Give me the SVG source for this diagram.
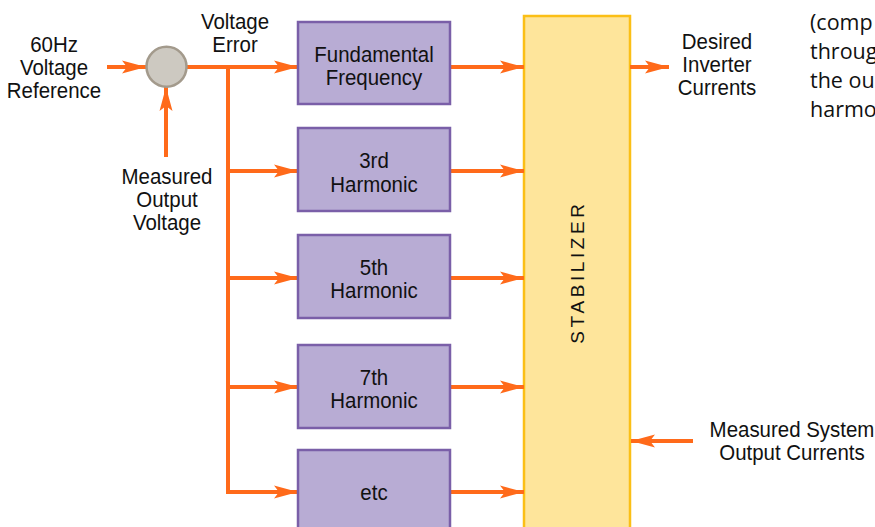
<svg xmlns="http://www.w3.org/2000/svg" width="875" height="527" viewBox="0 0 875 527">
<defs>
<style>
.lbl{font-family:"Liberation Sans",Arial,sans-serif;font-size:22px;fill:#111;text-anchor:middle}
.box{fill:#b8acd4;stroke:#7a5fa8;stroke-width:2.5}
.wire{fill:none;stroke:#ff6a1a;stroke-width:4}
.arr{fill:none;stroke:#ff6a1a;stroke-width:4;marker-end:url(#ah)}
.side{font-family:"Open Sans","Noto Sans",sans-serif;font-size:21.5px;fill:#111}
</style>
<marker id="ah" markerUnits="userSpaceOnUse" markerWidth="26" markerHeight="14" refX="24" refY="7" orient="auto">
<path d="M0,0.5 L24,7 L0,13.5 L5,7 Z" fill="#ff6a1a"/>
</marker>
</defs>
<rect width="875" height="527" fill="#fff"/>

<g id="stabilizer">
<rect x="524" y="16" width="106" height="520" fill="#fee59b" stroke="#fbbf16" stroke-width="2.5"/>
<text x="584" y="272" transform="rotate(-90 584 272)" style="font-family:'Liberation Sans',Arial,sans-serif;font-size:19px;fill:#111;letter-spacing:3.6px;text-anchor:middle">STABILIZER</text>
</g>

<g id="connectors">
<line class="arr" x1="107" y1="67" x2="146" y2="67"/>
<line class="arr" x1="166" y1="157" x2="166" y2="87"/>
<polyline class="wire" points="187,67 228,67 228,492"/>
<line class="arr" x1="228" y1="67" x2="298" y2="67"/>
<line class="arr" x1="228" y1="171" x2="298" y2="171"/>
<line class="arr" x1="228" y1="278" x2="298" y2="278"/>
<line class="arr" x1="228" y1="387" x2="298" y2="387"/>
<line class="arr" x1="226" y1="492" x2="298" y2="492"/>
<line class="arr" x1="451" y1="67" x2="524" y2="67"/>
<line class="arr" x1="451" y1="171" x2="524" y2="171"/>
<line class="arr" x1="451" y1="278" x2="524" y2="278"/>
<line class="arr" x1="451" y1="387" x2="524" y2="387"/>
<line class="arr" x1="451" y1="492" x2="524" y2="492"/>
<line class="arr" x1="630" y1="67" x2="669" y2="67"/>
<line class="arr" x1="693" y1="441" x2="631" y2="441"/>
</g>

<g id="summing-junction">
<circle cx="166.5" cy="66.7" r="20" fill="#cdc9c1" stroke="#a39a8c" stroke-width="2.5"/>
</g>

<g id="fundamental">
<rect class="box" x="298" y="22" width="152" height="82"/>
<text class="lbl" transform="translate(374,62) scale(0.93,1)">Fundamental</text>
<text class="lbl" transform="translate(374,85) scale(0.93,1)">Frequency</text>
</g>
<g id="h3">
<rect class="box" x="298" y="128" width="152" height="83"/>
<text class="lbl" transform="translate(374,168) scale(0.93,1)">3rd</text>
<text class="lbl" transform="translate(374,192) scale(0.93,1)">Harmonic</text>
</g>
<g id="h5">
<rect class="box" x="298" y="235" width="152" height="83"/>
<text class="lbl" transform="translate(374,275) scale(0.93,1)">5th</text>
<text class="lbl" transform="translate(374,298) scale(0.93,1)">Harmonic</text>
</g>
<g id="h7">
<rect class="box" x="298" y="345" width="152" height="83"/>
<text class="lbl" transform="translate(374,385) scale(0.93,1)">7th</text>
<text class="lbl" transform="translate(374,408) scale(0.93,1)">Harmonic</text>
</g>
<g id="etc">
<rect class="box" x="298" y="450" width="152" height="90"/>
<text class="lbl" transform="translate(374,500) scale(0.93,1)">etc</text>
</g>

<g id="labels">
<text class="lbl" transform="translate(54,52) scale(0.93,1)">60Hz</text>
<text class="lbl" transform="translate(54,75) scale(0.93,1)">Voltage</text>
<text class="lbl" transform="translate(54,98) scale(0.93,1)">Reference</text>
<text class="lbl" transform="translate(235,29) scale(0.93,1)">Voltage</text>
<text class="lbl" transform="translate(235,52) scale(0.93,1)">Error</text>
<text class="lbl" transform="translate(167,184) scale(0.93,1)">Measured</text>
<text class="lbl" transform="translate(167,207) scale(0.93,1)">Output</text>
<text class="lbl" transform="translate(167,230) scale(0.93,1)">Voltage</text>
<text class="lbl" transform="translate(717,49) scale(0.93,1)">Desired</text>
<text class="lbl" transform="translate(717,72) scale(0.93,1)">Inverter</text>
<text class="lbl" transform="translate(717,95) scale(0.93,1)">Currents</text>
<text class="lbl" transform="translate(792,437) scale(0.93,1)">Measured System</text>
<text class="lbl" transform="translate(792,460) scale(0.93,1)">Output Currents</text>
<text class="side" x="810" y="30">(comp</text>
<text class="side" x="810" y="59">throug</text>
<text class="side" x="810" y="88">the ou</text>
<text class="side" x="810" y="117">harmo</text>
</g>
</svg>
